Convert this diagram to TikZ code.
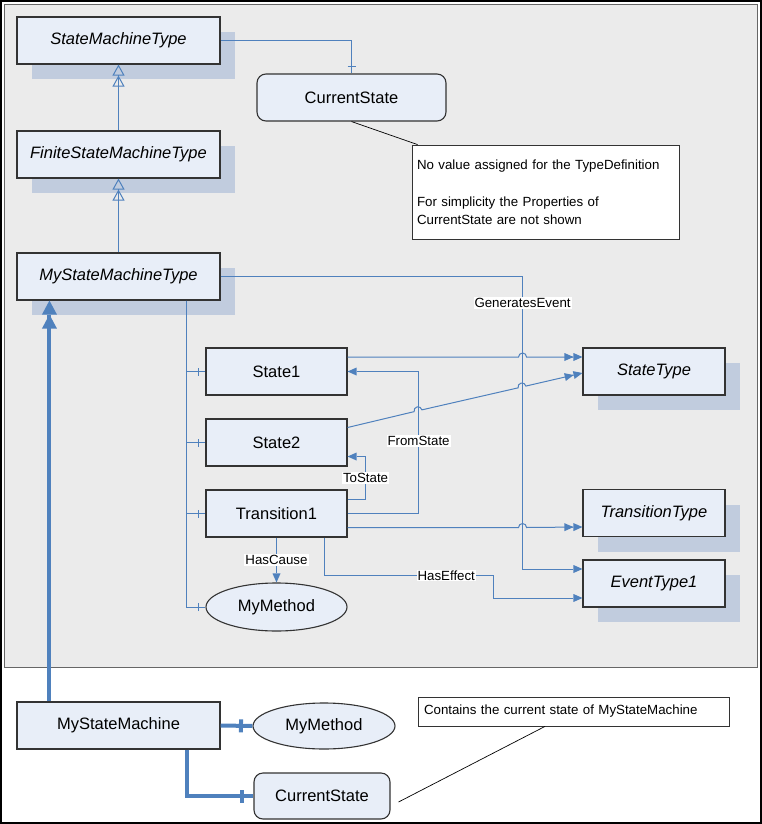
\documentclass[tikz,border=0pt]{standalone}
\usepackage{fontspec}
\setmainfont{Liberation Sans}
\usepackage{xcolor}
\usetikzlibrary{positioning}
\usetikzlibrary{arrows.meta, shapes.geometric, shadows, decorations.markings}
\definecolor{panelgray}{HTML}{EBEBEB}
\definecolor{boxfill}{HTML}{E8EEF8}
\definecolor{shadowblue}{HTML}{C1CCDE}
\definecolor{linkblue}{HTML}{4F81BD}
\definecolor{edgegray}{HTML}{333333}

\begin{document}
\begin{tikzpicture}[x=1pt, y=-1pt,
  base/.style = {draw=edgegray, line width=1.1pt, fill=boxfill, font=\fontsize{16.5}{20}\selectfont, inner sep=0pt},
  obj/.style = {base, rectangle, minimum width=141pt, minimum height=47pt},
  typ/.style = {obj, font=\fontsize{16.5}{20}\selectfont\itshape, drop shadow={shadow xshift=15pt, shadow yshift=-15pt, fill=shadowblue, opacity=1}},
  var/.style = {base, rounded corners=9pt, minimum height=47pt},
  meth/.style = {base, ellipse, minimum width=141pt, minimum height=48pt},
  note/.style = {draw=edgegray, line width=0.8pt, fill=white, font=\fontsize{13.3}{18.5}\selectfont, align=left, inner sep=5pt},
  lbl/.style = {fill=white, inner sep=1pt, font=\fontsize{13.3}{16}\selectfont},
  link/.style = {draw=linkblue, line width=1pt},
  inherit/.style = {link, -{Triangle[open,length=11pt,width=12pt,line width=1pt]Triangle[open,length=11pt,width=12pt,line width=1pt]}},
  hastype/.style = {link, -{Triangle[length=9pt,width=8pt,line width=0pt]Triangle[length=9pt,width=8pt,line width=0pt]}},
  ref/.style = {link, -{Triangle[length=9pt,width=8pt,line width=0pt]}},
  typedef/.style = {draw=linkblue, line width=4pt, -{Triangle[length=14pt,width=15pt,line width=0pt]Triangle[length=14pt,width=15pt,line width=0pt]}},
  comp/.style = {link, postaction={decorate, decoration={markings, mark=at position -7pt with {\draw[linkblue, line width=1pt] (0,-4pt) -- (0,4pt);}}}},
  bigcomp/.style = {draw=linkblue, line width=4pt, postaction={decorate, decoration={markings, mark=at position -11.5pt with {\draw[linkblue, line width=4pt] (0,-6.5pt) -- (0,6.5pt);}}}},
  notelink/.style = {draw=black, line width=0.7pt},
  node distance=71pt]
\useasboundingbox (0,0) rectangle (762,824);
\draw[line width=2pt] (1,1) rectangle (761,823);
\draw[draw=gray!80!black, line width=1pt, fill=panelgray] (4.5,4.5) rectangle (757.5,667.5);

\node[typ, minimum width=203pt] (smt) at (118.5,40.5) {StateMachineType};
\node[var, minimum width=189pt] (cs) at (351.5,97.5) {CurrentState};
\node[typ, minimum width=203pt] (fsmt) at (118.5,154.5) {FiniteStateMachineType};
\node[note, minimum width=267pt, minimum height=94pt, text width=257pt] (note1) at (545.5,192) {No value assigned for the TypeDefinition\\[18.5pt]For simplicity the Properties of\\CurrentState are not shown};
\node[typ, minimum width=203pt] (msmt) at (118.5,276.5) {MyStateMachineType};
\node[obj] (s1) at (276.5,371.5) {State1};
\node[obj] (s2) [below of=s1] {State2};
\node[obj] (t1) [below of=s2] {Transition1};
\node[meth] (mm1) at (276.5,607) {MyMethod};
\node[typ, minimum width=142pt] (st) at (654,371.5) {StateType};
\node[typ, minimum width=142pt] (tt) at (654,513) {TransitionType};
\node[typ, minimum width=142pt] (et) at (654,583.5) {EventType1};

\node[obj, minimum width=203pt] (msm) at (118.5,725.5) {MyStateMachine};
\node[meth, minimum width=142pt, minimum height=46pt] (mm2) at (324,726) {MyMethod};
\node[var, minimum width=136pt, minimum height=46pt] (cs2) at (322,796) {CurrentState};
\node[note, minimum width=311pt, minimum height=29pt, text width=299pt, inner sep=6pt] (note2) at (573.5,711.5) {Contains the current state of MyStateMachine};

\draw[comp] (smt.east) -| (cs.north);
\draw[inherit] (fsmt) -- (smt);
\draw[inherit] (msmt) -- (fsmt);
\draw[notelink] (cs.south) -- ([xshift=6pt]note1.north west);
\draw[comp] ([xshift=-34pt]msmt.south east) |- (s1.west);
\draw[comp] ([xshift=-34pt]msmt.south east) |- (s2.west);
\draw[comp] ([xshift=-34pt]msmt.south east) |- (t1.west);
\draw[comp] ([xshift=-34pt]msmt.south east) |- (mm1.west);
\draw[ref] (msmt.east) -- ++(302,0) |- node[lbl, pos=0.045] {GeneratesEvent} ([yshift=14.5pt]et.west);
\draw[hastype] ([yshift=14.5pt]s1.east) -- ++(171,0) arc[start angle=180, end angle=0, radius=4pt] -- ([yshift=14.5pt]st.west);
\draw[hastype] ([yshift=15pt]s2.east) -- (414.1,411.65) arc[start angle=192.9, end angle=12.9, radius=4pt] -- (518.1,387.85) arc[start angle=192.9, end angle=12.9, radius=4pt] -- ([yshift=-1.5pt]st.west);
\draw[ref] (t1.east) -- ++(71,0) |- node[lbl, pos=0.255] {FromState} (s1.east);
\draw[ref] ([yshift=14pt]t1.east) -- ++(18,0) |- node[lbl, pos=0.25] {ToState} ([yshift=-14pt]s2.east);
\draw[hastype] ([yshift=-14pt]t1.east) -- ++(171,0) arc[start angle=180, end angle=0, radius=4pt] -- ([yshift=-14pt]tt.west);
\draw[ref] (t1.south) -- node[lbl] {HasCause} (mm1.north);
\draw[ref] ([xshift=-23pt]t1.south east) -- ++(0,38) -- node[lbl, pos=0.72] {HasEffect} ++(169,0) |- ([yshift=-14.5pt]et.west);

\draw[typedef] ([xshift=33pt]msm.north west) -- ([xshift=33pt]msmt.south west);
\draw[bigcomp] (msm.east) -- (mm2.west);
\draw[bigcomp] ([xshift=-34pt]msm.south east) |- (cs2.west);
\draw[notelink] ([xshift=-28.5pt]note2.south) -- ([shift={(8pt,-6pt)}]cs2.east);
\end{tikzpicture}
\end{document}
